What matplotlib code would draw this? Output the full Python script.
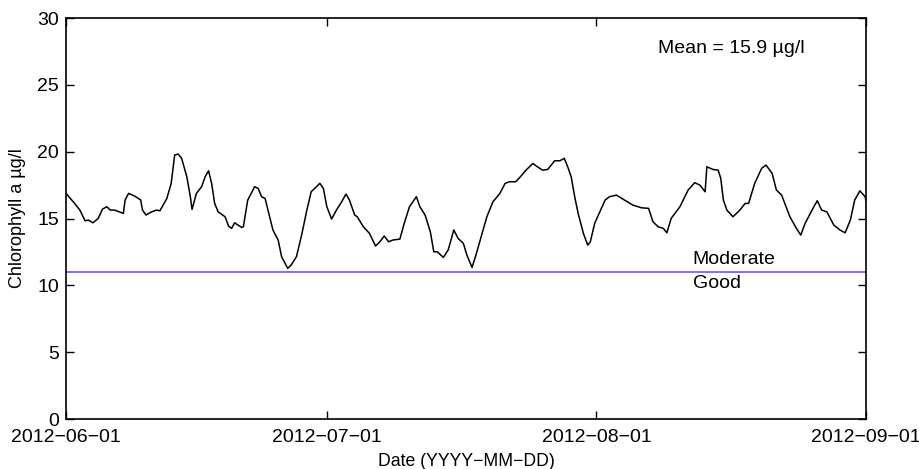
import numpy as np
import matplotlib
matplotlib.use('Agg')
import matplotlib.pyplot as plt
import matplotlib.dates as mdates
from datetime import datetime, timedelta

# days since 2012-06-01 and chlorophyll values
days = [0, 0.84, 1.6, 2.2, 2.57, 3.1, 3.7, 4.2, 4.7, 5.1, 5.6, 6.6, 6.8, 7.2, 7.9, 8.6, 8.8,
        9.2, 9.85, 10.4, 10.8, 11.6, 12.1, 12.5, 12.9, 13.3, 13.9, 14.3, 14.5, 15.0, 15.6,
        16.0, 16.4, 16.75, 17.1, 17.5, 18.3, 18.7, 19.05, 19.4, 20.2, 20.4, 20.9, 21.7,
        22.1, 22.5, 22.9, 23.8, 24.4, 24.8, 25.2, 25.5, 25.9, 26.5, 27.1, 27.7, 28.2, 28.8,
        29.2, 29.6, 30.0, 30.55, 31.1, 31.7, 32.2, 32.6, 33.2, 33.5, 34.2, 34.9, 35.6,
        36.1, 36.6, 37.1, 37.6, 38.4, 38.9, 39.5, 39.9, 40.3, 40.7, 41.3, 41.9, 42.3,
        42.7, 43.4, 43.95, 44.6, 45.1, 45.7, 46.1, 46.7, 47.2, 48.4, 49.1, 49.9, 50.5,
        51.0, 51.7, 52.2, 52.9, 53.7, 54.1, 54.8, 55.4, 56.2, 56.8, 57.3, 57.7, 58.1,
        58.5, 58.9, 59.5, 60.0, 60.3, 60.8, 61.4, 62.0, 62.5, 63.3, 64.1, 65.2, 66.2,
        67.0, 67.5, 68.1, 68.7, 69.1, 69.6, 70.6, 71.55, 72.3, 72.9, 73.5, 73.7, 74.4,
        75.0, 75.3, 75.6, 76.0, 76.7, 77.5, 78.1, 78.5, 79.2, 80.0, 80.5, 81.2, 81.7,
        82.3, 83.25, 84.0, 84.5, 85.0, 85.5, 86.0, 86.4, 86.9, 87.5, 88.3, 89.0, 89.6,
        90.2, 90.7, 91.3, 91.9, 92.0]
chl = [16.88, 16.25, 15.63, 14.83, 14.88, 14.68, 15.0, 15.7, 15.88, 15.63, 15.63, 15.38,
       16.38, 16.88, 16.68, 16.38, 15.63, 15.26, 15.5, 15.63, 15.58, 16.5, 17.63, 19.75,
       19.82, 19.5, 18.12, 16.63, 15.68, 16.88, 17.38, 18.12, 18.57, 17.63, 16.13, 15.5,
       15.13, 14.43, 14.26, 14.68, 14.33, 14.38, 16.38, 17.38, 17.25, 16.63, 16.5, 14.14,
       13.39, 12.14, 11.64, 11.27, 11.52, 12.14, 13.76, 15.63, 17.0, 17.38, 17.63, 17.25,
       15.88, 14.96, 15.63, 16.25, 16.83, 16.38, 15.26, 15.13, 14.38, 13.89, 12.94, 13.26,
       13.69, 13.26, 13.39, 13.46, 14.64, 15.88, 16.25, 16.63, 15.88, 15.26, 14.01, 12.51,
       12.51, 12.09, 12.64, 14.14, 13.51, 13.14, 12.27, 11.34, 12.39, 15.13, 16.25, 16.88,
       17.63, 17.75, 17.75, 18.08, 18.62, 19.12, 18.92, 18.62, 18.67, 19.32, 19.32, 19.5,
       18.87, 18.12, 16.63, 15.38, 13.89, 13.01, 13.26, 14.64, 15.5, 16.38, 16.63, 16.75,
       16.43, 16.0, 15.8, 15.76, 14.76, 14.38, 14.26, 13.93, 15.01, 15.88, 17.13, 17.68,
       17.5, 17.0, 18.87, 18.67, 18.62, 18.0, 16.38, 15.63, 15.13, 15.63, 16.13, 16.13,
       17.63, 18.75, 19.0, 18.38, 17.13, 16.75, 15.13, 14.26, 13.76, 14.64, 15.26, 15.88,
       16.33, 15.63, 15.5, 14.51, 14.14, 13.93, 14.88, 16.38, 17.07, 16.63, 16.3]
good_limit = 11.0
mean_text = 'Mean = 15.9 µg/l'

plt.rcParams['font.family'] = ['Liberation Sans', 'DejaVu Sans']

start = datetime(2012, 6, 1)
t = [start + timedelta(days=d) for d in days]

fig = plt.figure(figsize=(9.2, 4.69), dpi=100)
ax = fig.add_axes([0.0717, 0.1066, 0.8696, 0.855])
ax.plot(t, chl, color='black', lw=1.1)
ax.axhline(good_limit, color='#4a4aff', lw=1.1)

ax.set_xlim(start, datetime(2012, 9, 1))
ax.set_ylim(0, 30)
xt = [datetime(2012, 6, 1), datetime(2012, 7, 1), datetime(2012, 8, 1), datetime(2012, 9, 1)]
ax.set_xticks(xt)
ax.xaxis.set_major_formatter(mdates.DateFormatter('%Y\u2212%m\u2212%d'))
ax.set_yticks([0, 5, 10, 15, 20, 25, 30])
ax.tick_params(direction='in', length=6, width=1.0, labelsize=14, top=True, right=True)
ax.tick_params(axis='x', pad=7)
ax.tick_params(axis='y', pad=5)
for s in ax.spines.values():
    s.set_linewidth(1.2)

ax.text(start + timedelta(days=68.1), 27.35, mean_text, fontsize=14, va='baseline', ha='left')
ax.text(start + timedelta(days=72.05), 11.57, 'Moderate', fontsize=14, va='baseline', ha='left')
ax.text(start + timedelta(days=72.05), 9.77, 'Good', fontsize=14, va='baseline', ha='left')

ax.set_xlabel('Date (YYYY\u2212MM\u2212DD)', fontsize=12.7, labelpad=5.5)
ax.set_ylabel('Chlorophyll a µg/l', fontsize=13, labelpad=8)

fig.savefig('out.png', dpi=100)
